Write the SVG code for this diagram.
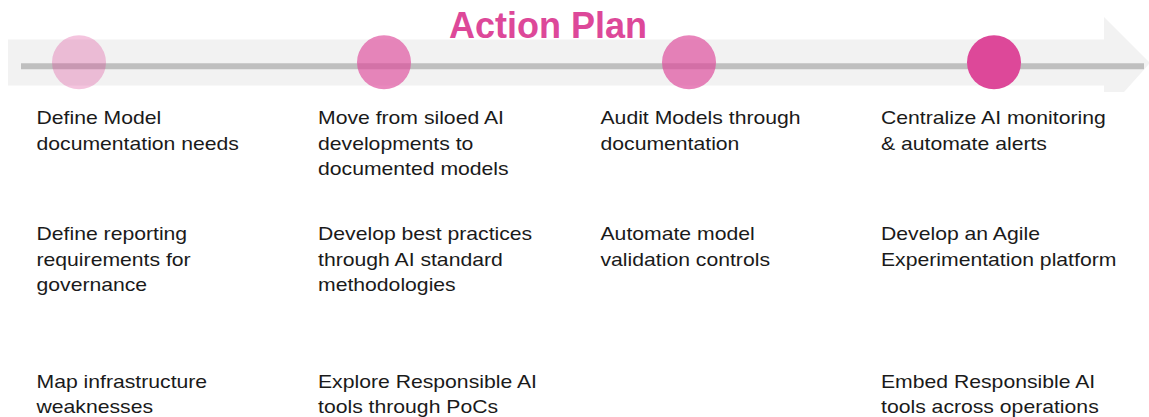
<svg xmlns="http://www.w3.org/2000/svg" width="1149" height="417" viewBox="0 0 1149 417">
  <style>
    .title { font-family: "Liberation Sans", Arial, sans-serif; font-weight: bold; font-size: 36px; fill: #dd4899; }
    .step { fill: #dd4899; }
    .label { font-family: "Liberation Sans", Arial, sans-serif; font-size: 19px; fill: #1a1a1a; }
  </style>

  <rect width="1149" height="417" fill="#ffffff"/>

  <!-- timeline band, arrow head and track -->
  <g id="connectors">
    <rect x="8" y="39.5" width="1097" height="46" fill="#f2f2f2"/>
    <polygon points="1104,17 1149,62 1149,64 1124,92 1104,92" fill="#f2f2f2"/>
    <line x1="21" y1="66.3" x2="1144" y2="66.3" stroke="#bfbfbf" stroke-width="6"/>
  </g>

  <text class="title" x="449" y="38">Action Plan</text>

  <!-- milestone 1 -->
  <g id="step-1">
    <circle class="step" cx="79" cy="62.3" r="27" fill-opacity="0.32"/>
    <g transform="translate(36.5 0) scale(1.115 1)">
      <text class="label"><tspan x="0" y="124.5">Define Model</tspan><tspan x="0" y="150">documentation needs</tspan></text>
      <text class="label"><tspan x="0" y="240.5">Define reporting</tspan><tspan x="0" y="266">requirements for</tspan><tspan x="0" y="291.5">governance</tspan></text>
      <text class="label"><tspan x="0" y="388">Map infrastructure</tspan><tspan x="0" y="413.5">weaknesses</tspan></text>
    </g>
  </g>

  <!-- milestone 2 -->
  <g id="step-2">
    <circle class="step" cx="384" cy="62.3" r="27" fill-opacity="0.65"/>
    <g transform="translate(318 0) scale(1.115 1)">
      <text class="label"><tspan x="0" y="124.5">Move from siloed AI</tspan><tspan x="0" y="150">developments to</tspan><tspan x="0" y="175.5">documented models</tspan></text>
      <text class="label"><tspan x="0" y="240.5">Develop best practices</tspan><tspan x="0" y="266">through AI standard</tspan><tspan x="0" y="291.5">methodologies</tspan></text>
      <text class="label"><tspan x="0" y="388">Explore Responsible AI</tspan><tspan x="0" y="413.5">tools through PoCs</tspan></text>
    </g>
  </g>

  <!-- milestone 3 -->
  <g id="step-3">
    <circle class="step" cx="689" cy="62.3" r="27" fill-opacity="0.67"/>
    <g transform="translate(600.5 0) scale(1.115 1)">
      <text class="label"><tspan x="0" y="124.5">Audit Models through</tspan><tspan x="0" y="150">documentation</tspan></text>
      <text class="label"><tspan x="0" y="240.5">Automate model</tspan><tspan x="0" y="266">validation controls</tspan></text>
    </g>
  </g>

  <!-- milestone 4 -->
  <g id="step-4">
    <circle class="step" cx="994" cy="62.3" r="27"/>
    <g transform="translate(881 0) scale(1.115 1)">
      <text class="label"><tspan x="0" y="124.5">Centralize AI monitoring</tspan><tspan x="0" y="150">&amp; automate alerts</tspan></text>
      <text class="label"><tspan x="0" y="240.5">Develop an Agile</tspan><tspan x="0" y="266">Experimentation platform</tspan></text>
      <text class="label"><tspan x="0" y="388">Embed Responsible AI</tspan><tspan x="0" y="413.5">tools across operations</tspan></text>
    </g>
  </g>
</svg>
